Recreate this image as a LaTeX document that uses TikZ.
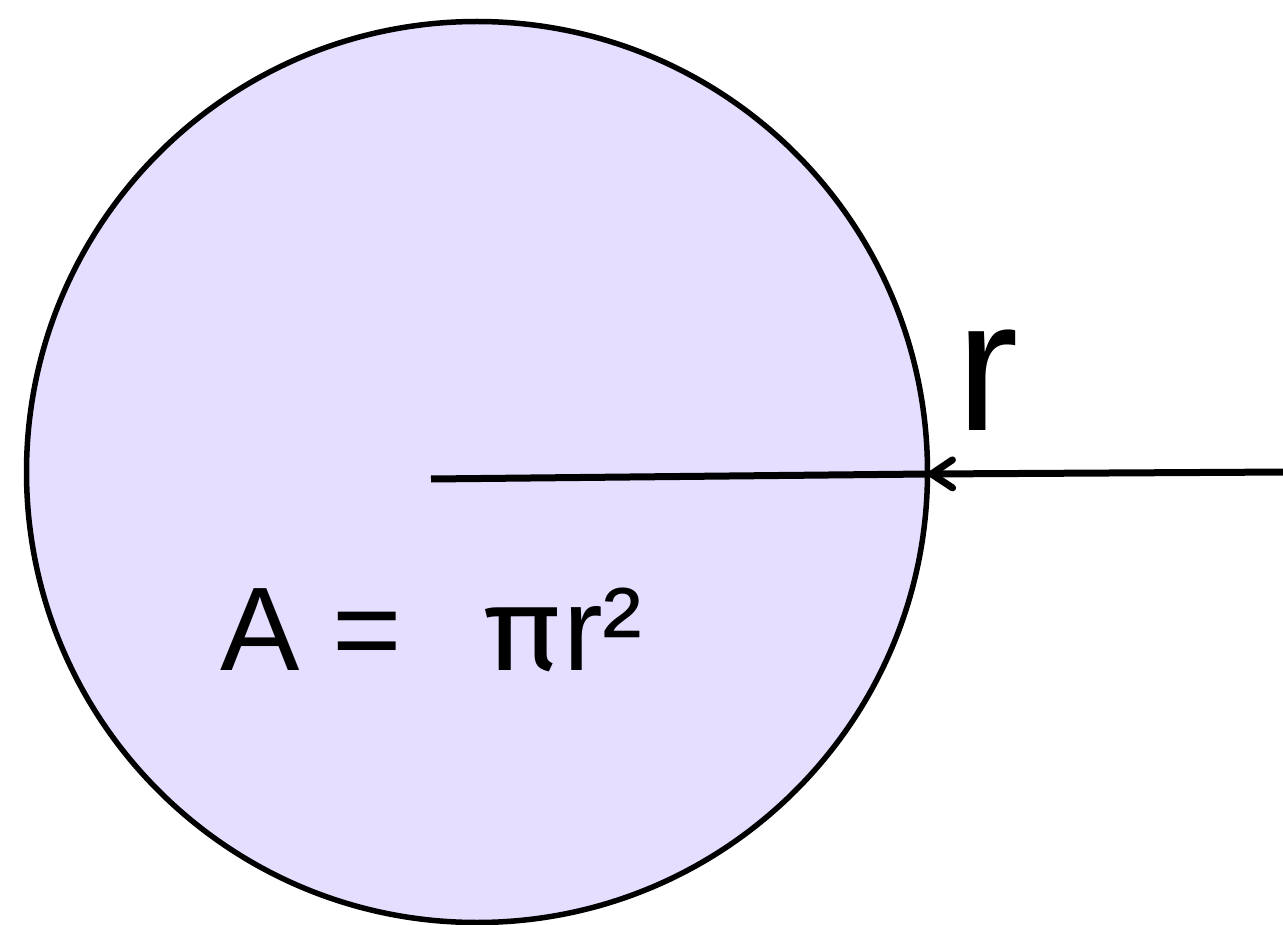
\documentclass[tikz,border=0pt]{standalone}
\usepackage{fontspec}
\setmainfont{Liberation Sans}
\newfontfamily\pifont{Fira Sans}
\usetikzlibrary{arrows.meta}
\definecolor{lav}{HTML}{E6DEFF}
\begin{document}
\begin{tikzpicture}[x=1pt,y=-1pt,
  outline/.style={line width=5.5pt},
  label/.style={inner sep=0pt,anchor=base west}]
\useasboundingbox (0,0) rectangle (1283,925);
\node[circle,draw,outline,fill=lav,minimum size=901pt,inner sep=0pt] (c) at (477,472) {};
\coordinate (ctr) at (431,479);
\coordinate (edge) at (928,474);
\coordinate (far) at (1290,472);
\draw[line width=7pt] (ctr) -- (edge);
\draw[line width=7pt,-{Straight Barb[length=21pt,width=28pt,line cap=round,line join=round]}] (far) -- (edge);
\node[label,font=\fontsize{187}{187}\selectfont] (r) at (956,430) {r};
\node[label,font=\fontsize{119}{119}\selectfont] (A) at (220,670) {A =\ \ \hspace{15pt}\scalebox{1.1}[1]{\pifont π}\hspace{2pt}r²};
\end{tikzpicture}
\end{document}
